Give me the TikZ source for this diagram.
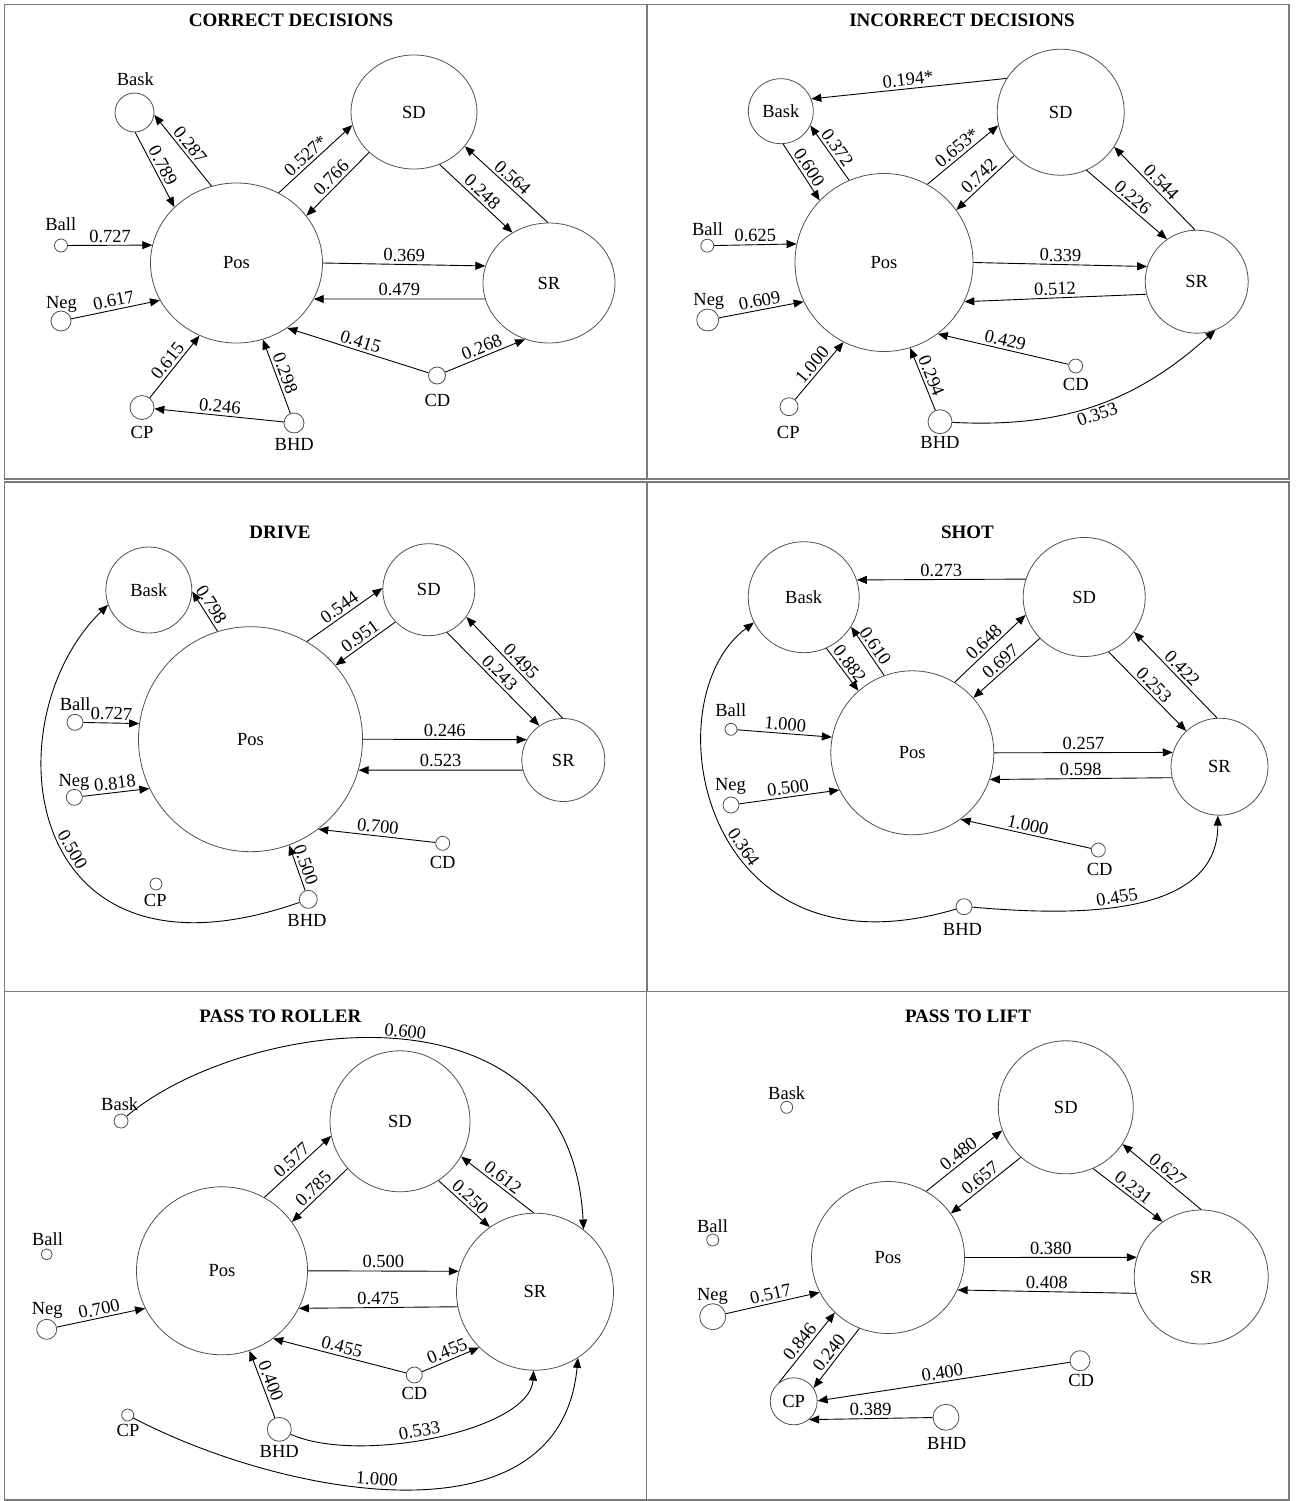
\documentclass[tikz,border=0pt]{standalone}
\usepackage{fontspec}
\setmainfont{Liberation Serif}
\usetikzlibrary{shapes.geometric,arrows.meta}
\newcommand\labsize{\fontsize{18.5}{21}\selectfont}
\newcommand\ttlsize{\fontsize{19}{22}\selectfont\bfseries}
\definecolor{framec}{HTML}{7A7A7A}
\definecolor{ringc}{HTML}{505050}

\begin{document}
\begin{tikzpicture}[x=1pt,y=-1pt,
  bign/.style={ellipse,draw=ringc,line width=0.8pt,inner sep=0pt,font=\labsize},
  smallc/.style={circle,draw=ringc,line width=0.8pt,inner sep=0pt,fill=white},
  arr/.style={-{Triangle[length=10pt,width=8pt]},line width=0.9pt},
  elab/.style={font=\labsize,sloped,inner sep=2.5pt},
  nlab/.style={font=\labsize,anchor=base,inner sep=0pt},
  ptitle/.style={font=\ttlsize,anchor=base,inner sep=0pt},
  panelframe/.style={draw=framec,line width=1.2pt}]

\path[use as bounding box] (0,0) rectangle (1297,1501);

% ---------- panel frames ----------
\draw[panelframe] (4.5,4.5) rectangle (1289,479);
\draw[panelframe] (647,4.5) -- (647,479);
\draw[panelframe] (4.5,482) rectangle (1289,991.5);
\draw[panelframe] (647,482) -- (647,991.5);
\draw[panelframe] (4.5,991.5) rectangle (1289,1500);
\draw[panelframe] (646.5,991.5) -- (646.5,1500);

% ================= CORRECT DECISIONS =================
\node[ptitle] (aTitle) at (291,26.7) {CORRECT DECISIONS};
\node[bign,minimum width=172pt,minimum height=160pt] (aPos) at (236.5,263) {Pos};
\node[bign,minimum width=126pt,minimum height=114pt] (aSD) at (414,112) {SD};
\node[bign,minimum width=132pt,minimum height=120pt] (aSR) at (549,283) {SR};
\node[smallc,minimum size=39pt] (aBask) at (134.5,112.5) {};
\node[smallc,minimum size=13pt] (aBall) at (61,245.5) {};
\node[smallc,minimum size=20pt] (aNeg) at (61,321) {};
\node[smallc,minimum size=24pt] (aCP) at (142,407.5) {};
\node[smallc,minimum size=20pt] (aBHD) at (294,423) {};
\node[smallc,minimum size=17pt] (aCD) at (437,375.5) {};
\node[nlab] (aBaskT) at (135.3,86) {Bask};
\node[nlab] (aBallT) at (60.8,230) {Ball};
\node[nlab] (aNegT) at (61.5,308.3) {Neg};
\node[nlab] (aCPT) at (142,438.3) {CP};
\node[nlab] (aBHDT) at (294.2,450.7) {BHD};
\node[nlab] (aCDT) at (437.5,406.7) {CD};

\draw[arr] (aPos.108) -- node[elab,above] {0.287} (aBask.-7);
\draw[arr] (aBask.-88) -- node[elab,above] {0.789} (aPos.138);
\draw[arr] (aPos.59) -- node[elab,above,pos=.45] {0.527*} (aSD.192);
\draw[arr] (aSD.222) -- node[elab,above] {0.766} (aPos.34);
\draw[arr] (aSD.-64) -- node[elab,above] {0.248} (aSR.126);
\draw[arr] (aSR.91) -- node[elab,above] {0.564} (aSD.-34);
\draw[arr] (aPos.0) -- node[elab,above] {0.369} (aSR.165);
\draw[arr] (aSR.194) -- node[elab,above] {0.479} (aPos.-25);
\draw[arr] (aCD) -- node[elab,above] {0.415} (aPos.-52);
\draw[arr] (aCD) -- node[elab,above] {0.268} (aSR.247);
\draw[arr] (aBHD) -- node[elab,above] {0.298} (aPos.-71);
\draw[arr] (aBHD) -- node[elab,above] {0.246} (aCP);
\draw[arr] (aCP) -- node[elab,above] {0.615} (aPos.243);
\draw[arr] (aBall) -- node[elab,above] {0.727} (aPos.168);
\draw[arr] (aNeg) -- node[elab,above] {0.617} (aPos.206);

% ================= INCORRECT DECISIONS =================
\node[ptitle] (bTitle) at (962,26.7) {INCORRECT DECISIONS};
\node[bign,minimum width=178pt,minimum height=178pt] (bPos) at (884,262.5) {Pos};
\node[bign,minimum width=127pt,minimum height=126pt] (bSD) at (1060.7,112.2) {SD};
\node[bign,minimum width=103pt,minimum height=103pt] (bSR) at (1196.7,281.7) {SR};
\node[smallc,minimum size=65pt,font=\labsize] (bBask) at (780.8,111.2) {Bask};
\node[smallc,minimum size=13pt] (bBall) at (707.3,245.7) {};
\node[smallc,minimum size=22pt] (bNeg) at (707.7,320) {};
\node[smallc,minimum size=18pt] (bCP) at (789,406.7) {};
\node[smallc,minimum size=24pt] (bBHD) at (940,421.7) {};
\node[smallc,minimum size=14pt] (bCD) at (1075.7,366) {};
\node[nlab] (bBallT) at (707.5,235) {Ball};
\node[nlab] (bNegT) at (708.8,305) {Neg};
\node[nlab] (bCPT) at (788.3,438.3) {CP};
\node[nlab] (bBHDT) at (940,448.3) {BHD};
\node[nlab] (bCDT) at (1075.8,390) {CD};

\draw[arr] (bSD.148) -- node[elab,above] {0.194*} (bBask.22);
\draw[arr] (bPos.113) -- node[elab,above] {0.372} (bBask.-26);
\draw[arr] (bBask.-86) -- node[elab,above] {0.600} (bPos.136);
\draw[arr] (bPos.61) -- node[elab,above] {0.653*} (bSD.192);
\draw[arr] (bSD.223) -- node[elab,above] {0.742} (bPos.36);
\draw[arr] (bSD.-66) -- node[elab,above] {0.226} (bSR.125);
\draw[arr] (bSR.92) -- node[elab,above] {0.544} (bSD.-33);
\draw[arr] (bPos.0) -- node[elab,above] {0.339} (bSR.163);
\draw[arr] (bSR.194) -- node[elab,above] {0.512} (bPos.-26);
\draw[arr] (bCD) -- node[elab,above] {0.429} (bPos.-53);
\draw[arr] (bBHD) -- node[elab,above] {0.294} (bPos.-73);
\draw[arr] (bBHD.-3) to[out=-3,in=222] node[elab,below] {0.353} (bSR.-69);
\draw[arr] (bBall) -- node[elab,above] {0.625} (bPos.168);
\draw[arr] (bNeg) -- node[elab,above] {0.609} (bPos.206);
\draw[arr] (bCP) -- node[elab,above] {1.000} (bPos.243);

% ================= DRIVE =================
\node[ptitle] (cTitle) at (280,538.3) {DRIVE};
\node[bign,minimum width=224pt,minimum height=225pt] (cPos) at (250.5,739.2) {Pos};
\node[bign,minimum width=92pt,minimum height=92pt] (cSD) at (428.8,589.7) {SD};
\node[bign,minimum width=83pt,minimum height=83pt] (cSR) at (563.3,760) {SR};
\node[smallc,minimum size=86pt,font=\labsize] (cBask) at (148.8,590) {Bask};
\node[smallc,minimum size=16pt] (cBall) at (75,722.3) {};
\node[smallc,minimum size=16pt] (cNeg) at (74.3,797.3) {};
\node[smallc,minimum size=12pt] (cCP) at (156,884) {};
\node[smallc,minimum size=18pt] (cBHD) at (308.3,899.3) {};
\node[smallc,minimum size=14pt] (cCD) at (442.7,843.3) {};
\node[nlab] (cBallT) at (75.2,710) {Ball};
\node[nlab] (cNegT) at (74,786) {Neg};
\node[nlab] (cCPT) at (155.3,906.7) {CP};
\node[nlab] (cBHDT) at (307,926.7) {BHD};
\node[nlab] (cCDT) at (442.7,868.3) {CD};

\draw[arr] (cPos.107) -- node[elab,above,pos=.55] {0.798} (cBask.-2);
\draw[arr] (cPos.60) -- node[elab,above] {0.544} (cSD.178);
\draw[arr] (cSD.224) -- node[elab,above] {0.951} (cPos.41);
\draw[arr] (cSD.-67) -- node[elab,above] {0.243} (cSR.125);
\draw[arr] (cSR.91) -- node[elab,above] {0.495} (cSD.-36);
\draw[arr] (cPos.0) -- node[elab,above] {0.246} (cSR.151);
\draw[arr] (cSR.194) -- node[elab,above] {0.523} (cPos.-16);
\draw[arr] (cCD) -- node[elab,above] {0.700} (cPos.-53);
\draw[arr] (cBHD) -- node[elab,above] {0.500} (cPos.-70);
\draw[arr] (cBHD) .. controls (20,1000) and (-10,720) .. node[elab,above,pos=.45] {0.500} (cBask.200);
\draw[arr] (cBall) -- node[elab,above] {0.727} (cPos.172);
\draw[arr] (cNeg) -- node[elab,above] {0.818} (cPos.206);

% ================= SHOT =================
\node[ptitle] (dTitle) at (967.5,538.3) {SHOT};
\node[bign,minimum width=163pt,minimum height=164pt] (dPos) at (912.3,752.8) {Pos};
\node[bign,minimum width=122pt,minimum height=119pt] (dSD) at (1084.2,597) {SD};
\node[bign,minimum width=97pt,minimum height=97pt] (dSR) at (1219.5,766.7) {SR};
\node[smallc,minimum size=111pt,font=\labsize] (dBask) at (803.7,597.2) {Bask};
\node[smallc,minimum size=12pt] (dBall) at (731,729.3) {};
\node[smallc,minimum size=16pt] (dNeg) at (731,805) {};
\node[smallc,minimum size=16pt] (dBHD) at (964,906.7) {};
\node[smallc,minimum size=14pt] (dCD) at (1098.3,850) {};
\node[nlab] (dBallT) at (730.8,716.7) {Ball};
\node[nlab] (dNegT) at (730.5,790.7) {Neg};
\node[nlab] (dBHDT) at (962.5,935) {BHD};
\node[nlab] (dCDT) at (1099.7,875) {CD};

\draw[arr] (dSD.163) -- node[elab,above] {0.273} (dBask.18);
\draw[arr] (dPos.110) -- node[elab,above] {0.610} (dBask.-32);
\draw[arr] (dBask.-66) -- node[elab,above] {0.882} (dPos.131);
\draw[arr] (dPos.59) -- node[elab,above] {0.648} (dSD.197);
\draw[arr] (dSD.223) -- node[elab,above] {0.697} (dPos.42);
\draw[arr] (dSD.-66) -- node[elab,above] {0.253} (dSR.133);
\draw[arr] (dSR.93) -- node[elab,above] {0.422} (dSD.-35);
\draw[arr] (dPos.0) -- node[elab,above] {0.257} (dSR.163);
\draw[arr] (dSR.193) -- node[elab,above] {0.598} (dPos.-19);
\draw[arr] (dCD) -- node[elab,above] {1.000} (dPos.-54);
\draw[arr] (dBall) -- node[elab,above] {1.000} (dPos.169);
\draw[arr] (dNeg) -- node[elab,above] {0.500} (dPos.207);
\draw[arr] (dBHD) .. controls (700,985) and (650,700) .. node[elab,above,pos=.43] {0.364} (dBask.207);
\draw[arr] (dBHD.-3) to[out=-5,in=-90] node[elab,above,pos=.45] {0.455} (dSR.-92);

% ================= PASS TO ROLLER =================
\node[ptitle] (eTitle) at (280.3,1022.3) {PASS TO ROLLER};
\node[bign,minimum width=171pt,minimum height=168pt] (ePos) at (222,1270.8) {Pos};
\node[bign,minimum width=140pt,minimum height=141pt] (eSD) at (400,1121.3) {SD};
\node[bign,minimum width=157pt,minimum height=157pt] (eSR) at (535,1291.7) {SR};
\node[smallc,minimum size=14pt] (eBask) at (121,1121) {};
\node[smallc,minimum size=11pt] (eBall) at (46.7,1254.3) {};
\node[smallc,minimum size=20pt] (eNeg) at (46.7,1329.3) {};
\node[smallc,minimum size=12pt] (eCP) at (127.7,1415) {};
\node[smallc,minimum size=24pt] (eBHD) at (279.3,1429.3) {};
\node[smallc,minimum size=16pt] (eCD) at (414.3,1375) {};
\node[nlab] (eBaskT) at (119.7,1110.7) {Bask};
\node[nlab] (eBallT) at (47.5,1245) {Ball};
\node[nlab] (eNegT) at (47.2,1314) {Neg};
\node[nlab] (eCPT) at (128,1436.7) {CP};
\node[nlab] (eBHDT) at (279.2,1457.3) {BHD};
\node[nlab] (eCDT) at (414.5,1399.3) {CD};

\draw[arr] (eBask) .. controls (240,1020) and (570,970) .. node[elab,above,pos=.52] {0.600} (eSR.52);
\draw[arr] (ePos.60) -- node[elab,above] {0.577} (eSD.192);
\draw[arr] (eSD.222) -- node[elab,above] {0.785} (ePos.35);
\draw[arr] (eSD.-57) -- node[elab,above] {0.250} (eSR.125);
\draw[arr] (eSR.91) -- node[elab,above] {0.612} (eSD.-30);
\draw[arr] (ePos.0) -- node[elab,above] {0.500} (eSR.165);
\draw[arr] (eSR.191) -- node[elab,above] {0.475} (ePos.-26);
\draw[arr] (eCD) -- node[elab,above] {0.455} (ePos.-53);
\draw[arr] (eCD) -- node[elab,above] {0.455} (eSR.225);
\draw[arr] (eBHD) -- node[elab,above] {0.400} (ePos.-71);
\draw[arr] (eBHD) .. controls (360,1465) and (530,1430) .. node[elab,above,pos=.45] {0.533} (eSR.-91);
\draw[arr] (eCP) .. controls (280,1495) and (560,1550) .. node[elab,above,pos=.45] {1.000} (eSR.-57);
\draw[arr] (eNeg) -- node[elab,above] {0.700} (ePos.206);

% ================= PASS TO LIFT =================
\node[ptitle] (fTitle) at (968,1022.3) {PASS TO LIFT};
\node[bign,minimum width=153pt,minimum height=152pt] (fPos) at (888,1257.5) {Pos};
\node[bign,minimum width=135pt,minimum height=133pt] (fSD) at (1065.8,1107.3) {SD};
\node[bign,minimum width=134pt,minimum height=134pt] (fSR) at (1201.2,1277) {SR};
\node[smallc,minimum size=12pt] (fBask) at (786.7,1107.3) {};
\node[smallc,minimum size=12pt] (fBall) at (712.7,1240) {};
\node[smallc,minimum size=26pt] (fNeg) at (712.7,1316.7) {};
\node[smallc,minimum size=47pt,font=\labsize] (fCP) at (793.7,1401.3) {CP};
\node[smallc,minimum size=26pt] (fBHD) at (946,1417.3) {};
\node[smallc,minimum size=20pt] (fCD) at (1080,1360.7) {};
\node[nlab] (fBaskT) at (786.7,1099.3) {Bask};
\node[nlab] (fBallT) at (712.5,1232.7) {Ball};
\node[nlab] (fNegT) at (712.5,1300.7) {Neg};
\node[nlab] (fBHDT) at (946.7,1449.3) {BHD};
\node[nlab] (fCDT) at (1081.2,1386) {CD};

\draw[arr] (fPos.60) -- node[elab,above] {0.480} (fSD.200);
\draw[arr] (fSD.228) -- node[elab,above] {0.657} (fPos.35);
\draw[arr] (fSD.-66) -- node[elab,above] {0.231} (fSR.125);
\draw[arr] (fSR.90) -- node[elab,above] {0.627} (fSD.-33);
\draw[arr] (fPos.0) -- node[elab,above] {0.380} (fSR.163);
\draw[arr] (fSR.194) -- node[elab,above] {0.408} (fPos.-25);
\draw[arr] (fNeg) -- node[elab,above] {0.517} (fPos.207);
\draw[arr] (fCP.128) -- node[elab,above] {0.846} (fPos.226);
\draw[arr] (fPos.248) -- node[elab,above] {0.240} (fCP.34);
\draw[arr] (fCD) -- node[elab,above] {0.400} (fCP.1);
\draw[arr] (fBHD) -- node[elab,above] {0.389} (fCP.-50);

\end{tikzpicture}
\end{document}
